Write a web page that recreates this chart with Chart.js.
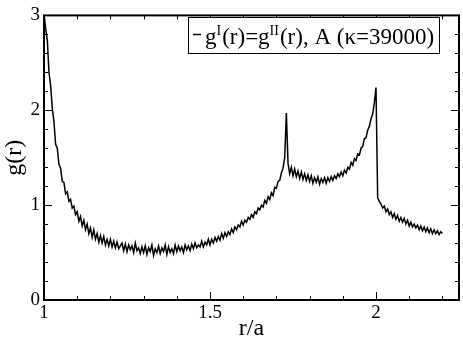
<!DOCTYPE html>
<html>
<head>
<meta charset="utf-8">
<script src="https://cdn.jsdelivr.net/npm/chart.js@4"></script>
<style>
  body { margin: 0; background: #fff; }
  #wrap { width: 463px; height: 343px; }
</style>
</head>
<body>
<div id="wrap"><canvas id="myChart"></canvas></div>
<script>
// r/a sampled every 0.005 from 1.0 to 2.2
const rStart = 1.0;
const rStep = 0.005;
const gValues = [
  3.02, 2.86, 2.74, 2.40, 2.26, 2.02, 1.88, 1.64, 1.60, 1.43,
  1.39, 1.25, 1.24, 1.12, 1.14, 1.04, 1.06, 0.97, 0.99, 0.90,
  0.93, 0.83, 0.88, 0.78, 0.84, 0.74, 0.80, 0.70, 0.76, 0.66,
  0.74, 0.64, 0.70, 0.61, 0.68, 0.60, 0.67, 0.58, 0.64, 0.57,
  0.64, 0.56, 0.62, 0.55, 0.61, 0.54, 0.57, 0.60, 0.52, 0.59,
  0.51, 0.58, 0.53, 0.57, 0.50, 0.60, 0.52, 0.55, 0.49, 0.56,
  0.50, 0.57, 0.48, 0.55, 0.51, 0.58, 0.47, 0.54, 0.50, 0.57,
  0.49, 0.55, 0.51, 0.58, 0.48, 0.56, 0.50, 0.54, 0.49, 0.58,
  0.51, 0.57, 0.52, 0.56, 0.50, 0.58, 0.53, 0.57, 0.52, 0.59,
  0.54, 0.60, 0.55, 0.58, 0.56, 0.62, 0.56, 0.61, 0.58, 0.64,
  0.58, 0.64, 0.60, 0.66, 0.62, 0.67, 0.63, 0.70, 0.65, 0.71,
  0.67, 0.72, 0.69, 0.75, 0.71, 0.77, 0.74, 0.79, 0.77, 0.83,
  0.79, 0.84, 0.82, 0.87, 0.85, 0.90, 0.87, 0.93, 0.91, 0.97,
  0.95, 1.00, 0.98, 1.05, 1.02, 1.09, 1.06, 1.13, 1.10, 1.19,
  1.18, 1.25, 1.26, 1.34, 1.39, 1.50, 1.97, 1.44, 1.33, 1.40,
  1.31, 1.38, 1.30, 1.36, 1.28, 1.35, 1.27, 1.33, 1.26, 1.32,
  1.25, 1.31, 1.23, 1.29, 1.24, 1.30, 1.22, 1.28, 1.24, 1.29,
  1.23, 1.29, 1.25, 1.30, 1.26, 1.31, 1.28, 1.33, 1.30, 1.35,
  1.31, 1.37, 1.34, 1.40, 1.38, 1.45, 1.42, 1.49, 1.47, 1.54,
  1.53, 1.60, 1.62, 1.70, 1.71, 1.79, 1.83, 1.91, 1.96, 2.08,
  2.24, 1.08, 1.04, 1.01, 0.97, 0.99, 0.93, 0.96, 0.90, 0.93,
  0.87, 0.91, 0.85, 0.89, 0.83, 0.87, 0.82, 0.86, 0.80, 0.84,
  0.78, 0.82, 0.77, 0.80, 0.76, 0.79, 0.74, 0.78, 0.73, 0.77,
  0.72, 0.76, 0.71, 0.75, 0.70, 0.74, 0.70, 0.73, 0.69, 0.72,
  0.70
];

const xMajor = [1, 1.5, 2];
const xMinor = [1.1, 1.2, 1.3, 1.4, 1.6, 1.7, 1.8, 1.9, 2.1, 2.2];
const yMajor = [0, 1, 2, 3];
const yMinor = [0.2, 0.4, 0.6, 0.8, 1.2, 1.4, 1.6, 1.8, 2.2, 2.4, 2.6, 2.8];

const serif = '"Liberation Serif", "Times New Roman", serif';

const points = gValues.map((g, i) => ({ x: +(rStart + i * rStep).toFixed(3), y: g }));

// box with inward ticks on all four sides
const framePlugin = {
  id: 'frame',
  afterDatasetsDraw(chart) {
    const c = chart.ctx, a = chart.chartArea;
    const xs = chart.scales.x, ys = chart.scales.y;
    c.save();
    c.strokeStyle = '#000';
    c.lineWidth = 1;
    c.beginPath();
    xMajor.concat(xMinor).forEach(v => {
      const p = Math.round(xs.getPixelForValue(v)) + 0.5;
      const len = xMajor.includes(v) ? 8 : 4;
      c.moveTo(p, a.bottom); c.lineTo(p, a.bottom - len);
      c.moveTo(p, a.top); c.lineTo(p, a.top + len);
    });
    yMajor.concat(yMinor).forEach(v => {
      const p = Math.round(ys.getPixelForValue(v)) + 0.5;
      const len = yMajor.includes(v) ? 8 : 4;
      c.moveTo(a.left, p); c.lineTo(a.left + len, p);
      c.moveTo(a.right, p); c.lineTo(a.right - len, p);
    });
    c.stroke();
    c.lineWidth = 2;
    c.strokeRect(a.left, a.top, a.right - a.left, a.bottom - a.top);
    c.restore();
  }
};

// legend with superscripts
const legendPlugin = {
  id: 'supLegend',
  afterDraw(chart) {
    const c = chart.ctx;
    const bx = 188, by = 17, bw = 251, bh = 36;
    c.save();
    c.fillStyle = '#fff';
    c.fillRect(bx, by, bw, bh);
    c.strokeStyle = '#000';
    c.lineWidth = 1;
    c.strokeRect(bx + 0.5, by + 0.5, bw, bh);
    c.lineWidth = 1.5;
    c.beginPath();
    c.moveTo(193, 34.5); c.lineTo(201, 34.5);
    c.stroke();
    c.fillStyle = '#000';
    c.textBaseline = 'alphabetic';
    const base = 44;
    const parts = [
      ['g', false], ['I', true], ['(r)=g', false], ['II', true], ['(r), A (\u03ba=39000)', false]
    ];
    let x = 205;
    parts.forEach(([t, sup]) => {
      c.font = (sup ? '14px ' : '23px ') + serif;
      c.fillText(t, x, sup ? base - 9 : base);
      x += c.measureText(t).width + (sup ? 1 : 0);
    });
    c.restore();
  }
};

const ctx = document.getElementById('myChart');

new Chart(ctx, {
  type: 'line',
  data: {
    datasets: [{
      label: 'g(r)',
      data: points,
      borderColor: '#000',
      borderWidth: 1.5,
      pointRadius: 0,
      tension: 0,
      fill: false
    }]
  },
  options: {
    responsive: true,
    maintainAspectRatio: false,
    animation: false,
    layout: { padding: { top: 8, right: 4, left: 0, bottom: 0 } },
    plugins: { legend: { display: false }, tooltip: { enabled: false } },
    scales: {
      x: {
        type: 'linear',
        min: 1,
        max: 2.25,
        afterBuildTicks: s => { s.ticks = xMajor.map(v => ({ value: v })); },
        afterFit: s => { s.height = 43; },
        grid: { display: false, drawTicks: false },
        border: { display: false },
        ticks: {
          color: '#000',
          padding: 2,
          maxRotation: 0,
          font: { family: serif, size: 19 },
          callback: v => String(v)
        },
        title: {
          display: true,
          text: 'r/a',
          color: '#000',
          padding: { top: -2, bottom: 0 },
          font: { family: serif, size: 24 }
        }
      },
      y: {
        min: 0,
        max: 3,
        afterBuildTicks: s => { s.ticks = yMajor.map(v => ({ value: v })); },
        afterFit: s => { s.width = 44; },
        grid: { display: false, drawTicks: false },
        border: { display: false },
        ticks: {
          color: '#000',
          padding: 4,
          font: { family: serif, size: 19 },
          callback: v => String(v)
        },
        title: {
          display: true,
          text: 'g(r)',
          color: '#000',
          padding: { top: 0, bottom: 2 },
          font: { family: serif, size: 24 }
        }
      }
    }
  },
  plugins: [framePlugin, legendPlugin]
});
</script>
</body>
</html>
